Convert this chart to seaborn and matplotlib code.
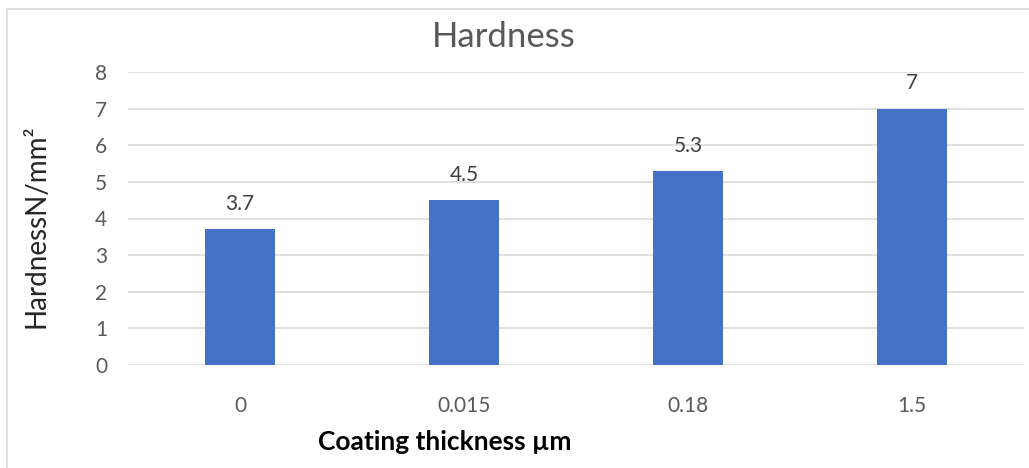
import matplotlib
matplotlib.use("Agg")
import matplotlib.pyplot as plt
import seaborn as sns
import pandas as pd
from matplotlib.patches import Rectangle

# Coating thickness (µm) and measured hardness
thickness = ["0", "0.015", "0.18", "1.5"]
hardness = [3.7, 4.5, 5.3, 7]
y_ticks = [0, 1, 2, 3, 4, 5, 6, 7, 8]

df = pd.DataFrame({"thickness": thickness, "hardness": hardness})

sns.set_theme(style="white")
plt.rcParams["font.family"] = ["Lato", "DejaVu Sans"]

fig = plt.figure(figsize=(10.29, 4.68), dpi=100)
ax = fig.add_axes([128 / 1029, 1 - 365 / 468, (1024 - 128) / 1029, (365 - 72) / 468])

sns.barplot(data=df, x="thickness", y="hardness", color="#4472C4",
            saturation=1, width=0.3125, linewidth=0, ax=ax, zorder=3)

ax.set_ylim(0, 8)
ax.set_xlim(-0.5, len(thickness) - 0.5)
ax.set_yticks(y_ticks)
ax.yaxis.grid(True, color="#D9D9D9", linewidth=1.2, zorder=0)
ax.set_axisbelow(True)
for s in ax.spines.values():
    s.set_visible(False)
ax.tick_params(axis="both", length=0, labelsize=15, labelcolor="#595959")
ax.tick_params(axis="x", pad=22)
ax.tick_params(axis="y", pad=15)

# value labels above each bar
for i, v in enumerate(hardness):
    ax.annotate(f"{v:g}", (i, v), xytext=(0, 11), textcoords="offset points",
                ha="center", va="bottom", fontsize=15, color="#404040")

ax.set_xlabel("Coating thickness µm", fontsize=19, fontweight="bold",
              color="#000000")
ax.xaxis.set_label_coords((445 - 128) / (1024 - 128), -(430 - 365) / (365 - 72))
ax.set_ylabel("HardnessN/mm²", fontsize=20, color="#262626")
ax.yaxis.set_label_coords(-(128 - 50) / (1024 - 128), (365 - 226) / (365 - 72))

fig.text(504 / 1029, 1 - 37 / 468, "Hardness", ha="center", va="center",
         fontsize=25, color="#595959")

# chart frame
fig.patches.append(Rectangle((7 / 1029, -0.1), 1.2, 1 - 9 / 468 + 0.1,
                             transform=fig.transFigure, fill=False,
                             edgecolor="#D9D9D9", linewidth=1.2))

fig.savefig("out.png", dpi=100)
